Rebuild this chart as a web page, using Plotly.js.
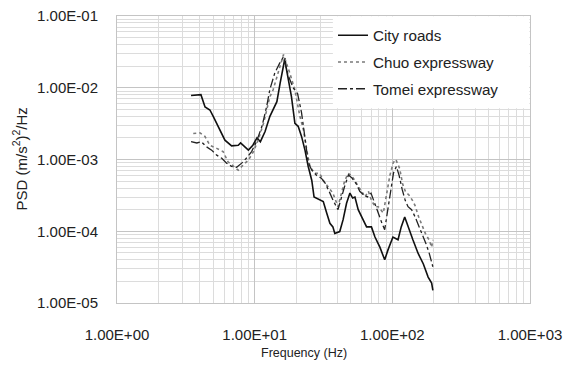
<!DOCTYPE html>
<html>
<head>
<meta charset="utf-8">
<script src="https://cdn.plot.ly/plotly-3.0.1.min.js"></script>
<style>html,body{margin:0;padding:0;background:#fff;}#chart{width:564px;height:366px;}</style>
</head>
<body>
<div id="chart"></div>
<script>
// ---- data ----
const seriesNames = ["City roads", "Chuo expressway", "Tomei expressway"];

const cityFreq = [3.45,4.07,4.36,4.73,5.0,5.6,6.08,6.8,7.6,7.9,8.3,9.0,9.7,10.4,11.0,11.9,12.9,14.5,15.3,16.6,16.9,18.5,19.6,20.7,21.9,23.2,24.5,26.0,27.0,29.7,31.5,33.4,35.2,37.0,38.2,41.5,43.9,46.5,49.2,51.5,53.5,56.5,61.5,65,70.5,74.8,81.2,88,93,101,110,116,123,130,141,154,168,182,193,197];
const cityPsd = [7.8e-3,8.0e-3,5.4e-3,4.9e-3,4.0e-3,2.6e-3,1.86e-3,1.55e-3,1.58e-3,1.7e-3,1.55e-3,1.35e-3,1.58e-3,2.0e-3,1.77e-3,2.45e-3,4.0e-3,6.4e-3,1.15e-2,2.6e-2,1.96e-2,7.5e-3,3.2e-3,2.9e-3,2.1e-3,1.35e-3,8e-4,5.1e-4,3.0e-4,2.7e-4,2.6e-4,1.78e-4,1.29e-4,1.15e-4,9.3e-5,9.9e-5,1.45e-4,2.45e-4,3.4e-4,2.9e-4,3.0e-4,2.0e-4,1.45e-4,1.15e-4,1.15e-4,8.3e-5,6.0e-5,4.0e-5,5.5e-5,8.3e-5,7.6e-5,1.15e-4,1.58e-4,1.15e-4,7.6e-5,4.9e-5,3.5e-5,2.3e-5,1.9e-5,1.5e-5];

const chuoFreq = [3.58,4.0,4.35,4.73,5.3,5.9,6.4,7.0,7.6,8.3,9.0,9.8,10.6,11.6,12.9,13.6,14.8,16.2,18.0,19.6,21.3,22.6,23.9,25.2,27.3,29.7,31.5,34.2,37.0,40.3,42,45,47.7,50,53.5,56.5,60,63.2,67,70.5,75,79,86,91,96,101.5,106,113,119,125,132,140,146,155,165,175,185,193,197];
const chuoPsd = [2.3e-3,2.35e-3,2.1e-3,1.58e-3,1.43e-3,1.29e-3,9.3e-4,8e-4,7.1e-4,8.5e-4,9.8e-4,1.29e-3,1.86e-3,3.2e-3,7.5e-3,9.3e-3,1.6e-2,2.9e-2,1.6e-2,9.3e-3,4.0e-3,2.6e-3,1.35e-3,8e-4,6.4e-4,6.4e-4,5.1e-4,4.2e-4,3.4e-4,2.2e-4,3.0e-4,5.0e-4,6.4e-4,6.1e-4,5.1e-4,4.2e-4,3.6e-4,3.0e-4,3.6e-4,2.7e-4,2.2e-4,2.2e-4,1.8e-4,3.2e-4,6.0e-4,9.0e-4,1.0e-3,7.5e-4,4.5e-4,3.5e-4,3.2e-4,2.7e-4,2.3e-4,1.6e-4,1.15e-4,9.0e-5,7.6e-5,6.0e-5,7.6e-5];

const tomeiFreq = [3.45,3.8,4.1,4.47,4.87,5.3,5.77,6.25,6.8,7.4,8.05,8.7,9.5,10.3,11.3,12.2,12.9,14.0,15.2,16.2,17.5,19.0,20.5,21.9,23.2,24.5,26.0,28.2,30.5,32.5,35.2,37.1,40.3,42,45,48,51,55,58,62,66,70,74,79,84,88,92,97,102,107,112,118,124,130,138,146,155,165,175,185,193,197];
const tomeiPsd = [1.77e-3,1.7e-3,1.77e-3,1.5e-3,1.35e-3,1.15e-3,1.04e-3,8.9e-4,8e-4,7.8e-4,8.9e-4,1.04e-3,1.29e-3,1.77e-3,2.9e-3,5.4e-3,9.5e-3,1.6e-2,2.2e-2,2.7e-2,1.5e-2,1.0e-2,8.3e-3,4.5e-3,2.0e-3,9e-4,7.1e-4,6.0e-4,5.5e-4,4.7e-4,3.4e-4,2.7e-4,2.0e-4,2.7e-4,4.2e-4,6.1e-4,5.5e-4,4.5e-4,3.6e-4,3.2e-4,3.0e-4,3.4e-4,2.5e-4,1.8e-4,1.3e-4,1.05e-4,1.8e-4,3.4e-4,6.5e-4,8e-4,6e-4,3.8e-4,2.7e-4,2.2e-4,2.0e-4,1.6e-4,1.2e-4,9.3e-5,6.8e-5,5.0e-5,3.5e-5,3.2e-5];

const xTickVals = [1, 10, 100, 1000];
const xTickText = ["1.00E+00", "1.00E+01", "1.00E+02", "1.00E+03"];
const yTickVals = [1e-5, 1e-4, 1e-3, 1e-2, 1e-1];
const yTickText = ["1.00E-05", "1.00E-04", "1.00E-03", "1.00E-02", "1.00E-01"];
const xTitle = "Frequency (Hz)";
const yTitle = "PSD (m/s<sup>2</sup>)<sup>2</sup>/Hz";

// ---- chart ----
const FONT = "Liberation Sans, Arial, sans-serif";
const traces = [
  {x: cityFreq, y: cityPsd, name: seriesNames[0], legendgroup: "a", mode: "lines",
   line: {color: "#111", width: 1.6, dash: "solid"}},
  {x: chuoFreq, y: chuoPsd, name: seriesNames[1], legendgroup: "b", mode: "lines",
   line: {color: "#7a7a7a", width: 1.6, dash: "dot"}},
  {x: tomeiFreq, y: tomeiPsd, name: seriesNames[2], legendgroup: "c", mode: "lines",
   line: {color: "#222", width: 1.3, dash: "dashdot"}}
];

const layout = {
  width: 564, height: 366,
  margin: {l: 117, r: 34, t: 16, b: 63, pad: 0},
  paper_bgcolor: "#fff", plot_bgcolor: "#fff",
  font: {family: FONT, size: 15, color: "#222"},
  showlegend: true,
  legend: {x: 0.523, xanchor: "left", y: 0.99, yanchor: "top",
    bgcolor: "#fff", borderwidth: 0, font: {family: FONT, size: 15.2, color: "#222"},
    tracegroupgap: 4, traceorder: "grouped"},
  shapes: [
    {type: "rect", xref: "x", yref: "y", x0: 37, x1: 990, y0: 5.2e-3, y1: 0.099,
     fillcolor: "#fff", line: {width: 0}, layer: "between"}
  ],
  xaxis: {type: "log", range: [0, 3], tickmode: "array", tickvals: xTickVals, ticktext: xTickText,
    showgrid: true, gridcolor: "#c4c4c4", gridwidth: 1, zeroline: false,
    showline: true, linecolor: "#c4c4c4", mirror: true, ticks: "", ticklabelstandoff: 18,
    minor: {showgrid: true, gridcolor: "#dcdcdc", gridwidth: 1, dtick: "D1", ticks: ""},
    tickfont: {family: FONT, size: 15, color: "#222"}},
  yaxis: {type: "log", range: [-5, -1], tickmode: "array", tickvals: yTickVals, ticktext: yTickText,
    showgrid: true, gridcolor: "#c4c4c4", gridwidth: 1, zeroline: false,
    showline: true, linecolor: "#c4c4c4", mirror: true, ticks: "", ticklabelstandoff: 15,
    minor: {showgrid: true, gridcolor: "#dcdcdc", gridwidth: 1, dtick: "D1", ticks: ""},
    tickfont: {family: FONT, size: 15, color: "#222"}},
  annotations: [
    {text: xTitle, xref: "paper", yref: "paper", x: (304 - 117) / 413, y: -50 / 287,
     xanchor: "center", yanchor: "middle", showarrow: false, font: {family: FONT, size: 12.5, color: "#222"}},
    {text: yTitle, xref: "paper", yref: "paper", x: (20 - 117) / 413, y: 0.5, textangle: -90,
     xanchor: "center", yanchor: "middle", showarrow: false, font: {family: FONT, size: 15, color: "#222"}}
  ]
};

Plotly.newPlot("chart", traces, layout, {displayModeBar: false, staticPlot: true});
</script>
</body>
</html>
